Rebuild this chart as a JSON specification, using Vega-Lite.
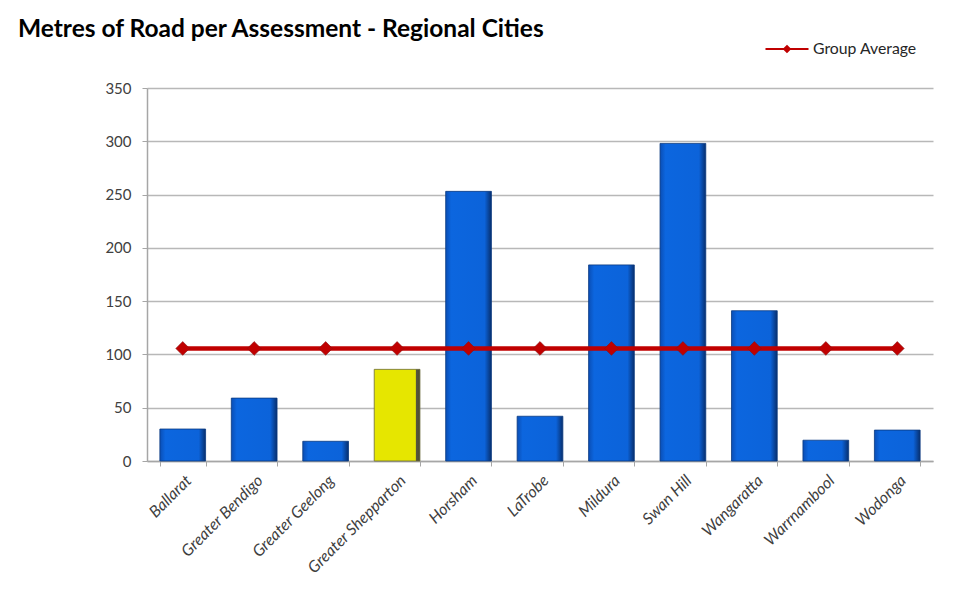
{
  "$schema": "https://vega.github.io/schema/vega-lite/v6.json",
  "autosize": "none",
  "width": 786,
  "height": 373,
  "padding": {"left": 147, "top": 88, "right": 33, "bottom": 151},
  "background": "white",
  "title": {
    "text": "Metres of Road per Assessment - Regional Cities",
    "anchor": "start",
    "frame": "group",
    "dx": -129,
    "dy": 34,
    "offset": 0,
    "baseline": "alphabetic",
    "font": "Lato",
    "fontSize": 24.5,
    "fontWeight": "bold",
    "color": "#000000"
  },
  "data": {
    "values": [
      {"city": "Ballarat", "value": 30, "avg": 105.6},
      {"city": "Greater Bendigo", "value": 59, "avg": 105.6},
      {"city": "Greater Geelong", "value": 18.5, "avg": 105.6},
      {"city": "Greater Shepparton", "value": 86, "avg": 105.6},
      {"city": "Horsham", "value": 253, "avg": 105.6},
      {"city": "LaTrobe", "value": 42, "avg": 105.6},
      {"city": "Mildura", "value": 184, "avg": 105.6},
      {"city": "Swan Hill", "value": 298, "avg": 105.6},
      {"city": "Wangaratta", "value": 141, "avg": 105.6},
      {"city": "Warrnambool", "value": 19.5, "avg": 105.6},
      {"city": "Wodonga", "value": 29, "avg": 105.6}
    ]
  },
  "config": {
    "view": {"stroke": null},
    "font": "Lato"
  },
  "encoding": {
    "x": {
      "field": "city",
      "type": "nominal",
      "sort": ["Ballarat", "Greater Bendigo", "Greater Geelong", "Greater Shepparton", "Horsham", "LaTrobe", "Mildura", "Swan Hill", "Wangaratta", "Warrnambool", "Wodonga"],
      "title": null,
      "scale": {"paddingInner": 0.36, "paddingOuter": 0.18},
      "axis": {
        "labelAngle": -45,
        "labelFont": "Lato",
        "labelFontStyle": "italic",
        "labelFontSize": 16,
        "labelColor": "#404040",
        "labelPadding": 6,
        "tickBand": "extent",
        "tickSize": 5,
        "tickColor": "#a6a6a6",
        "domainColor": "#a6a6a6",
        "domainWidth": 1.5
      }
    }
  },
  "layer": [
    {
      "transform": [{"filter": "datum.city !== 'Greater Shepparton'"}],
      "mark": {
        "type": "bar",
        "stroke": "#0a3a80",
        "strokeWidth": 0.8,
        "color": {
          "gradient": "linear",
          "x1": 0, "y1": 0, "x2": 1, "y2": 0,
          "stops": [
            {"offset": 0, "color": "#0a4eb5"},
            {"offset": 0.12, "color": "#0c66df"},
            {"offset": 0.85, "color": "#0c63da"},
            {"offset": 1, "color": "#072f6e"}
          ]
        }
      },
      "encoding": {
        "y": {
          "field": "value",
          "type": "quantitative",
          "title": null,
          "scale": {"domain": [0, 350]},
          "axis": {
            "values": [0, 50, 100, 150, 200, 250, 300, 350],
            "labelFont": "Lato",
            "labelFontSize": 15,
            "labelColor": "#404040",
            "labelPadding": 11,
            "tickSize": 5,
            "tickColor": "#a6a6a6",
            "domainColor": "#a6a6a6",
            "domainWidth": 1.5,
            "gridColor": "#b8b8b8",
            "gridWidth": 1.3
          }
        }
      }
    },
    {
      "transform": [{"filter": "datum.city === 'Greater Shepparton'"}],
      "mark": {
        "type": "bar",
        "stroke": "#6b6b3a",
        "strokeWidth": 0.8,
        "color": {
          "gradient": "linear",
          "x1": 0, "y1": 0, "x2": 1, "y2": 0,
          "stops": [
            {"offset": 0, "color": "#e6e600"},
            {"offset": 0.9, "color": "#e6e600"},
            {"offset": 0.92, "color": "#55553a"},
            {"offset": 1, "color": "#4a4a35"}
          ]
        }
      },
      "encoding": {
        "y": {"field": "value", "type": "quantitative"}
      }
    },
    {
      "mark": {"type": "line", "strokeWidth": 4.5},
      "encoding": {
        "y": {"field": "avg", "type": "quantitative"},
        "color": {
          "datum": "Group Average",
          "type": "nominal",
          "scale": {"range": ["#c00000"]},
          "legend": {
            "title": null,
            "orient": "none",
            "legendX": 618,
            "legendY": -61,
            "symbolType": "M-1,-0.05L1,-0.05L1,0.05L-1,0.05Z M0,-0.2L0.2,0L0,0.2L-0.2,0Z",
            "symbolSize": 1850,
            "symbolStrokeWidth": 0,
            "labelFont": "Lato",
            "labelFontSize": 15.8,
            "labelColor": "#262626",
            "labelOffset": 4,
            "encode": {
              "symbols": {
                "update": {
                  "fill": {"value": "#c00000"},
                  "strokeWidth": {"value": 0}
                }
              }
            }
          }
        }
      }
    },
    {
      "mark": {
        "type": "point",
        "shape": "diamond",
        "filled": true,
        "size": 190,
        "color": "#c00000",
        "stroke": "#8a1010",
        "strokeWidth": 0.6,
        "opacity": 1
      },
      "encoding": {
        "y": {"field": "avg", "type": "quantitative"}
      }
    }
  ]
}
